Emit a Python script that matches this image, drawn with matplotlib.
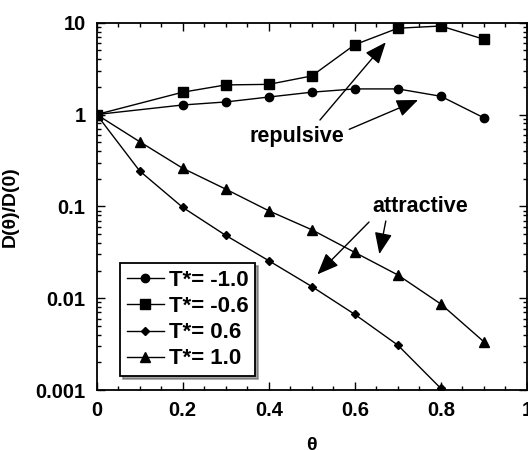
import numpy as np
import matplotlib
matplotlib.use("Agg")
import matplotlib.pyplot as plt
from matplotlib.ticker import LogLocator, FixedLocator, NullFormatter, MultipleLocator

plt.rcParams['font.family'] = ['Liberation Sans', 'DejaVu Sans']
plt.rcParams['font.weight'] = 'bold'

theta_full = [0.0, 0.2, 0.3, 0.4, 0.5, 0.6, 0.7, 0.8, 0.9]
d_m10 = [1.0, 1.27, 1.37, 1.55, 1.75, 1.90, 1.90, 1.58, 0.92]
d_m06 = [1.0, 1.75, 2.1, 2.13, 2.63, 5.76, 8.7, 9.2, 6.6]

theta_p10 = [0.0, 0.1, 0.2, 0.3, 0.4, 0.5, 0.6, 0.7, 0.8, 0.9]
d_p10 = [1.0, 0.506, 0.26, 0.154, 0.0895, 0.0556, 0.0315, 0.0179, 0.00863, 0.00335]

theta_p06 = [0.0, 0.1, 0.2, 0.3, 0.4, 0.5, 0.6, 0.7, 0.8]
d_p06 = [1.0, 0.243, 0.0975, 0.0483, 0.0256, 0.0134, 0.00666, 0.00308, 0.00104]

labels = ['T*= -1.0', 'T*= -0.6', 'T*= 0.6', 'T*= 1.0']
xticks = [0, 0.2, 0.4, 0.6, 0.8, 1.0]
xticklabels = ['0', '0.2', '0.4', '0.6', '0.8', '1']
yticks = [0.001, 0.01, 0.1, 1, 10]
yticklabels = ['0.001', '0.01', '0.1', '1', '10']

fig = plt.figure(figsize=(5.28, 4.5), dpi=100)
ax = fig.add_axes([0.183, 0.1333, 0.815, 0.8163])

kw = dict(color='black', lw=1.0)
ax.plot(theta_full, d_m10, marker='o', ms=6, label=labels[0], **kw)
ax.plot(theta_full, d_m06, marker='s', ms=6.5, label=labels[1], **kw)
ax.plot(theta_p06, d_p06, marker='D', ms=4, label=labels[2], **kw)
ax.plot(theta_p10, d_p10, marker='^', ms=6.5, label=labels[3], **kw)

ax.set_yscale('log')
ax.set_xlim(0, 1)
ax.set_ylim(0.001, 10)
ax.set_xticks(xticks)
ax.set_xticklabels(xticklabels)
ax.xaxis.set_minor_locator(MultipleLocator(0.05))
ax.yaxis.set_major_locator(FixedLocator(yticks))
ax.set_yticklabels(yticklabels)
ax.yaxis.set_minor_locator(LogLocator(base=10, subs=np.arange(2, 10), numticks=20))
ax.yaxis.set_minor_formatter(NullFormatter())
ax.tick_params(which='both', direction='in', top=True, right=True, width=1.0)
ax.tick_params(which='major', length=6, labelsize=14.5, pad=8)
ax.tick_params(which='minor', length=3)
for s in ax.spines.values():
    s.set_linewidth(1.3)

ax.set_xlabel('θ', fontsize=14, fontweight='bold', labelpad=12)
ax.set_ylabel('D(θ)/D(0)', fontsize=14, fontweight='bold', labelpad=12)

leg = ax.legend(loc='lower left', bbox_to_anchor=(0.054, 0.038), borderaxespad=0,
                fontsize=16, handlelength=1.7, handletextpad=0.2, labelspacing=0.23,
                borderpad=0.3, fancybox=False, shadow=True, framealpha=1,
                edgecolor='black')
leg.get_frame().set_linewidth(1.3)

arrow_kw = dict(arrowstyle='-|>,head_length=1.1,head_width=0.45', color='black',
                lw=1.0, mutation_scale=12, shrinkA=0, shrinkB=0)
ax.text(0.466, 0.583, 'repulsive', fontsize=15.5, fontweight='bold', ha='center', va='center')
ax.annotate('', xy=(0.672, 6.11), xytext=(0.519, 0.871), arrowprops=arrow_kw)
ax.annotate('', xy=(0.747, 1.44), xytext=(0.587, 0.69), arrowprops=arrow_kw)
ax.text(0.751, 0.099, 'attractive', fontsize=15.5, fontweight='bold', ha='center', va='center')
ax.annotate('', xy=(0.513, 0.01816), xytext=(0.633, 0.0675), arrowprops=arrow_kw)
ax.annotate('', xy=(0.657, 0.0302), xytext=(0.672, 0.0692), arrowprops=arrow_kw)

fig.savefig('out.png', dpi=100)
